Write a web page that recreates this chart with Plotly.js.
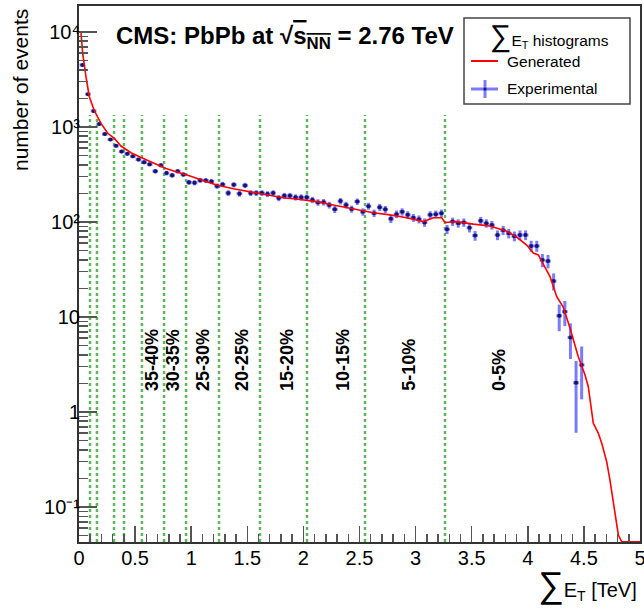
<!DOCTYPE html>
<html>
<head>
<meta charset="utf-8">
<script src="https://cdn.plot.ly/plotly-3.0.1.min.js"></script>
<style>html,body{margin:0;padding:0;background:#fff;}</style>
</head>
<body>
<div id="chart" style="width:644px;height:609px;"></div>
<script>
// Experimental histogram (bin centres, TeV) and counts
const expX = [0.03,0.08,0.13,0.18,0.23,0.28,0.33,0.38,0.43,0.48,0.53,0.58,0.63,0.68,0.73,0.78,0.83,0.88,0.93,0.98,
  1.03,1.08,1.13,1.18,1.23,1.28,1.33,1.38,1.43,1.48,1.53,1.58,1.63,1.68,1.73,1.78,1.83,1.88,1.93,1.98,
  2.03,2.08,2.13,2.18,2.23,2.28,2.33,2.38,2.43,2.48,2.53,2.58,2.63,2.68,2.73,2.78,2.83,2.88,2.93,2.98,
  3.03,3.08,3.13,3.18,3.23,3.28,3.33,3.38,3.43,3.48,3.53,3.58,3.63,3.68,3.73,3.78,3.83,3.88,3.93,3.98,
  4.03,4.08,4.13,4.18,4.23,4.28,4.33,4.38,4.43,4.48];
const expY = [4500,2220,1473,1076,843,738,635,552,523,492,
  455,426,405,343,395,328,310,342,316,262,
  259,275,274,267,239,249,202,247,199,243,
  202,202,202,197,202,179,189,189,182,182,
  182,171,161,162,151,136,166,151,137,164,
  128,147,124,143,136,108,121,128,119,111,
  107,99,119,121,124,84,101,97,99,87,
  72,103,97,93,73,82,76,71,73,73,
  56,56,39.8,38.8,23.9,10.3,11.4,6.08,2.03,3.13];
const expHalfBin = 0.025;

// Generated curve
const genX = [0.018,0.033,0.062,0.092,0.136,0.196,0.256,0.315,0.374,0.463,
  0.568,0.671,0.775,0.865,0.983,1.138,1.227,1.375,1.524,1.673,
  1.821,1.97,2.119,2.266,2.415,2.475,2.623,2.772,2.921,3.069,
  3.158,3.233,3.262,3.366,3.514,3.663,3.723,3.812,3.901,3.99,
  4.049,4.094,4.138,4.198,4.258,4.316,4.376,4.45,4.51,4.539,
  4.584,4.628,4.659,4.703,4.733,4.762,4.807,4.837,5.0];
const genY = [9750,5970,3390,2085,1493,1094,859,761,631,536,
  469,415,367,338,307,265,245,224,208,192,
  180,173,164,151,139,136,125,119,111,101,
  111,111,99,101,95,91,86,80,69.5,57.3,
  47.2,45,36.1,26.7,16.4,12.7,7.66,3.82,2.45,1.85,
  0.76,0.60,0.47,0.30,0.19,0.109,0.0507,0.0431,0.0431];

// Centrality class boundaries (TeV) and labels
const centralityEdges = [0.098,0.16,0.312,0.401,0.561,0.758,0.954,1.248,1.613,2.032,2.549,3.262];
const edgeTop = 1337;
const edgeBottom = 0.0429;
const centralityLabels = ["35-40%","30-35%","25-30%","20-25%","15-20%","10-15%","5-10%","0-5%"];
const centralityLabelX = [0.65,0.84,1.105,1.453,1.854,2.353,2.94,3.743];

// Axis ticks
const yTickVals = [0.1,1,10,100,1000,10000];
const yTickText = ["10\u207B\u00B9","1","10","10\u00B2","10\u00B3","10\u2074"];
const xTickVals = [0,0.5,1,1.5,2,2.5,3,3.5,4,4.5,5];
const xTickText = ["0","0.5","1","1.5","2","2.5","3","3.5","4","4.5","5"];

const FONT = "Liberation Sans, Arial, Helvetica, sans-serif";

// build edge line trace
const edgeXs = [], edgeYs = [];
centralityEdges.forEach(e => { edgeXs.push(e, e, null); edgeYs.push(edgeBottom, edgeTop, null); });

const traces = [
  {
    x: edgeXs, y: edgeYs, mode: 'lines', type: 'scatter', hoverinfo: 'skip', showlegend: false,
    line: {color: '#5cb85c', width: 2.5, dash: 'dot'}
  },
  {
    x: expX, y: expY, mode: 'markers', type: 'scatter', name: 'Experimental', showlegend: false,
    marker: {color: '#14146e', size: 4},
    error_y: {type: 'sqrt', visible: true, color: 'rgba(90,90,255,0.8)', thickness: 3, width: 0},
    error_x: {type: 'constant', value: expHalfBin, visible: true, color: 'rgba(90,90,255,0.8)', thickness: 3, width: 0}
  },
  {
    x: genX, y: genY, mode: 'lines', type: 'scatter', name: 'Generated', showlegend: false,
    line: {color: '#ff0000', width: 1.6}
  }
];

// geometry helpers for paper coords (plot area 79..640 x, 6..542 y)
const L = 79, R = 640, T = 6, B = 542;
const px = v => (v - L) / (R - L);
const py = v => (B - v) / (B - T);

const annotations = [
  {
    text: "<b>CMS: PbPb at \u221A<span style='text-decoration:overline'>s<sub>NN</sub></span> = 2.76 TeV</b>",
    xref: 'paper', yref: 'paper', x: px(114), y: py(37), xanchor: 'left', yanchor: 'middle',
    showarrow: false, font: {family: FONT, size: 24, color: '#000'}
  },
  {
    text: "number of events", textangle: -90,
    xref: 'paper', yref: 'paper', x: px(20), y: py(7), xanchor: 'center', yanchor: 'top',
    showarrow: false, font: {family: FONT, size: 21, color: '#000'}
  },
  {
    text: "<span style='font-size:36px'>\u2211</span>E<sub>T</sub> [TeV]",
    xref: 'paper', yref: 'paper', x: 0.998, y: py(584), xanchor: 'right', yanchor: 'middle',
    showarrow: false, font: {family: FONT, size: 20, color: '#000'}
  },
  // legend texts
  {
    text: "<span style='font-size:30px'>\u2211</span>E<sub>T</sub> histograms",
    xref: 'paper', yref: 'paper', x: px(549), y: py(36), xanchor: 'center', yanchor: 'middle',
    showarrow: false, font: {family: FONT, size: 15.5, color: '#000'}
  },
  {
    text: "Generated", xref: 'paper', yref: 'paper', x: px(505), y: py(61), xanchor: 'left', yanchor: 'middle',
    showarrow: false, font: {family: FONT, size: 15.5, color: '#000'}
  },
  {
    text: "Experimental", xref: 'paper', yref: 'paper', x: px(505), y: py(89), xanchor: 'left', yanchor: 'middle',
    showarrow: false, font: {family: FONT, size: 15.5, color: '#000'}
  }
];

centralityLabels.forEach((lab, i) => {
  annotations.push({
    text: "<b>" + lab + "</b>", textangle: -90,
    xref: 'x', yref: 'paper', x: centralityLabelX[i], y: py(393), xanchor: 'center', yanchor: 'bottom',
    showarrow: false, font: {family: FONT, size: 18, color: '#000'}
  });
});

const shapes = [
  {type: 'rect', xref: 'paper', yref: 'paper', x0: px(464), x1: px(630), y0: py(104), y1: py(18),
   line: {color: '#444', width: 1.5}, fillcolor: '#fff', layer: 'above'},
  {type: 'line', xref: 'paper', yref: 'paper', x0: px(471), x1: px(498), y0: py(61), y1: py(61),
   line: {color: '#ff0000', width: 2}},
  {type: 'line', xref: 'paper', yref: 'paper', x0: px(471), x1: px(498), y0: py(89), y1: py(89),
   line: {color: 'rgba(90,90,255,0.8)', width: 3}},
  {type: 'line', xref: 'paper', yref: 'paper', x0: px(485), x1: px(485), y0: py(80), y1: py(98),
   line: {color: 'rgba(90,90,255,0.8)', width: 3}},
  {type: 'circle', xref: 'paper', yref: 'paper', x0: px(483.5), x1: px(486.5), y0: py(90.5), y1: py(87.5),
   line: {color: '#14146e', width: 0}, fillcolor: '#14146e'}
];

const layout = {
  width: 644, height: 609,
  margin: {l: L, r: 644 - R, t: T, b: 609 - B, pad: 0},
  paper_bgcolor: '#fff', plot_bgcolor: '#fff',
  showlegend: false,
  font: {family: FONT, size: 19, color: '#000'},
  xaxis: {
    range: [0, 5], tickmode: 'array', tickvals: xTickVals, ticktext: xTickText,
    ticks: 'inside', ticklen: 16, tickwidth: 1.5, tickcolor: '#555',
    minor: {dtick: 0.1, tick0: 0, ticks: 'inside', ticklen: 8, tickwidth: 1.5, tickcolor: '#555', showgrid: false},
    showline: true, linecolor: '#333', linewidth: 2, mirror: true,
    showgrid: false, zeroline: false, ticklabeloverflow: 'allow', ticklabelstandoff: -3,
    tickfont: {family: FONT, size: 20, color: '#000'}
  },
  yaxis: {
    type: 'log', range: [-1.368, 4.274],
    tickmode: 'array', tickvals: yTickVals, ticktext: yTickText,
    ticks: 'inside', ticklen: 18, tickwidth: 1.5, tickcolor: '#555',
    minor: {dtick: 'D1', ticks: 'inside', ticklen: 9, tickwidth: 1.5, tickcolor: '#555', showgrid: false},
    showline: true, linecolor: '#333', linewidth: 2, mirror: true,
    showgrid: false, zeroline: false, ticklabeloverflow: 'allow', ticklabelstandoff: -7,
    tickfont: {family: FONT, size: 20, color: '#000'}
  },
  annotations: annotations,
  shapes: shapes
};

Plotly.newPlot('chart', traces, layout, {displayModeBar: false, staticPlot: true});
</script>
</body>
</html>
